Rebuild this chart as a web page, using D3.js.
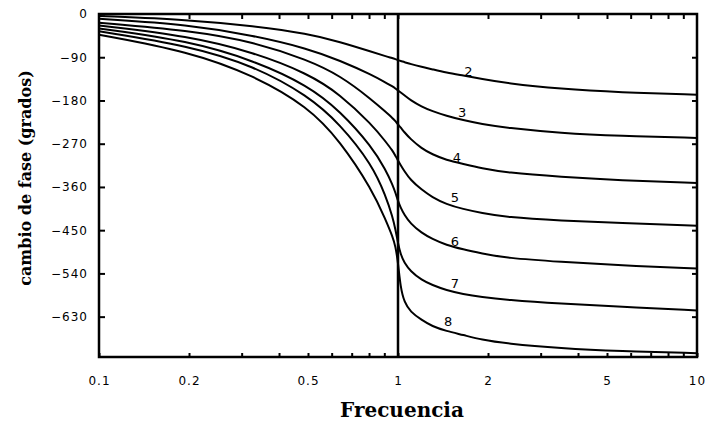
<!DOCTYPE html>
<html>
<head>
<meta charset="utf-8">
<script src="https://cdn.jsdelivr.net/npm/d3@7/dist/d3.min.js"></script>
<style>
  html, body { margin: 0; padding: 0; background: #fff; }
  svg { display: block; }
</style>
</head>
<body>
<svg id="chart" width="710" height="424"></svg>
<script>
// ---- data ----
const freq = [0.1, 0.2, 0.33, 0.5, 0.64, 0.82, 0.91, 0.96, 0.98, 1, 1.02, 1.05, 1.1, 1.2, 1.3, 1.45, 1.65, 1.9, 2.3, 3.5, 5.5, 10];
const orders = [2, 3, 4, 5, 6, 7, 8];
const phase2 = [-4, -12, -25, -41, -58, -79, -88, -92, -94, -96, -98, -100, -104, -110, -115, -122, -128, -135, -144, -156, -163, -168];
const phase3 = [-10, -22, -45, -72, -97, -127, -143, -151, -155, -159, -163, -169, -179, -193, -202, -212, -221, -229, -237, -248, -254, -258];
const phase4 = [-18, -34, -58, -96, -128, -179, -204, -217, -223, -230, -236, -246, -260, -280, -292, -304, -312, -321, -330, -339, -346, -352];
const phase5 = [-24, -46, -80, -124, -167, -231, -266, -285, -295, -305, -314, -327, -345, -366, -381, -396, -406, -414, -423, -430, -435, -441];
const phase6 = [-30, -56, -97, -149, -202, -277, -325, -356, -372, -389, -403, -418, -436, -456, -468, -481, -490, -498, -508, -516, -523, -530];
const phase7 = [-36, -66, -108, -170, -229, -314, -379, -423, -448, -477, -500, -518, -535, -554, -564, -575, -583, -589, -595, -603, -609, -617];
const phase8 = [-43, -78, -128, -193, -264, -366, -429, -464, -483, -516, -570, -600, -620, -637, -650, -660, -668, -678, -686, -696, -702, -706];
const phases = [phase2, phase3, phase4, phase5, phase6, phase7, phase8];

const labelFreq = [1.72, 1.64, 1.575, 1.55, 1.55, 1.55, 1.47];
const labelPhase = [-119, -206, -298, -383, -473, -562, -641];

const xTickValues = [0.1, 0.2, 0.5, 1, 2, 5, 10];
const xTickLabels = ["0.1", "0.2", "0.5", "1", "2", "5", "10"];
const xMinorTicks = [0.3, 0.4, 0.6, 0.7, 0.8, 0.9, 3, 4, 6, 7, 8, 9];
const yTickValues = [0, -90, -180, -270, -360, -450, -540, -630];
const yDomain = [0, -714];
const xDomain = [0.1, 10];

const xTitle = "Frecuencia";
const yTitle = "cambio de fase (grados)";

// ---- drawing ----
const svg = d3.select("#chart");
const x = d3.scaleLog().domain(xDomain).range([99, 697]);
const y = d3.scaleLinear().domain(yDomain).range([14, 357]);

const tickFont = "DejaVu Sans, sans-serif";

// curves
const line = d3.line()
  .x(d => x(d.f))
  .y(d => y(d.p))
  .curve(d3.curveBasis);

const series = orders.map((n, i) => ({
  n,
  pts: freq.map((f, j) => ({ f, p: phases[i][j] }))
}));

svg.append("g")
  .selectAll("path")
  .data(series)
  .join("path")
  .attr("d", d => line(d.pts))
  .attr("fill", "none")
  .attr("stroke", "#000")
  .attr("stroke-width", 2);

// vertical line at f = 1
svg.append("line")
  .attr("x1", x(1)).attr("x2", x(1))
  .attr("y1", y(yDomain[0])).attr("y2", y(yDomain[1]))
  .attr("stroke", "#000").attr("stroke-width", 2.5);

// bottom axis
const gx = svg.append("g")
  .attr("transform", `translate(0,${y(yDomain[1])})`)
  .call(d3.axisBottom(x)
    .tickValues(xTickValues.concat(xMinorTicks))
    .tickSize(-4)
    .tickPadding(19)
    .tickFormat(d => { const k = xTickValues.indexOf(d); return k >= 0 ? xTickLabels[k] : ""; }));
// top axis ticks
const gxt = svg.append("g")
  .attr("transform", `translate(0,${y(yDomain[0])})`)
  .call(d3.axisTop(x)
    .tickValues(xTickValues.slice(1, -1).concat(xMinorTicks))
    .tickSize(-5)
    .tickFormat(() => ""));

// left axis
const gy = svg.append("g")
  .attr("transform", `translate(${x(xDomain[0])},0)`)
  .call(d3.axisLeft(y)
    .tickValues(yTickValues)
    .tickSize(-6)
    .tickPadding(11)
    .tickFormat(d3.format("d")));
// right axis ticks
const gyr = svg.append("g")
  .attr("transform", `translate(${x(xDomain[1])},0)`)
  .call(d3.axisRight(y)
    .tickValues(yTickValues.slice(1))
    .tickSize(-5)
    .tickFormat(() => ""));

[gx, gxt, gy, gyr].forEach(g => {
  g.select(".domain").remove();
  g.selectAll(".tick line").attr("stroke", "#000").attr("stroke-width", 2);
  g.selectAll(".tick text")
    .attr("fill", "#000")
    .style("font-family", tickFont)
    .style("font-size", "12px")
    .style("letter-spacing", "1px");
});

// frame
svg.append("rect")
  .attr("x", x(xDomain[0])).attr("y", y(yDomain[0]))
  .attr("width", x(xDomain[1]) - x(xDomain[0]))
  .attr("height", y(yDomain[1]) - y(yDomain[0]))
  .attr("fill", "none").attr("stroke", "#000").attr("stroke-width", 2.5);

// curve labels
svg.append("g")
  .selectAll("text")
  .data(orders)
  .join("text")
  .attr("x", (d, i) => x(labelFreq[i]))
  .attr("y", (d, i) => y(labelPhase[i]))
  .attr("text-anchor", "middle")
  .attr("dominant-baseline", "central")
  .style("font-family", tickFont)
  .style("font-size", "13px")
  .text(d => d);

// axis titles
svg.append("text")
  .attr("x", 402).attr("y", 417)
  .attr("text-anchor", "middle")
  .style("font-family", "DejaVu Serif, serif")
  .style("font-weight", "bold")
  .style("font-size", "20px")
  .text(xTitle);

svg.append("text")
  .attr("transform", "translate(31,178) rotate(-90)")
  .attr("text-anchor", "middle")
  .style("font-family", "DejaVu Serif, serif")
  .style("font-weight", "bold")
  .style("font-size", "16px")
  .text(yTitle);
</script>
</body>
</html>
